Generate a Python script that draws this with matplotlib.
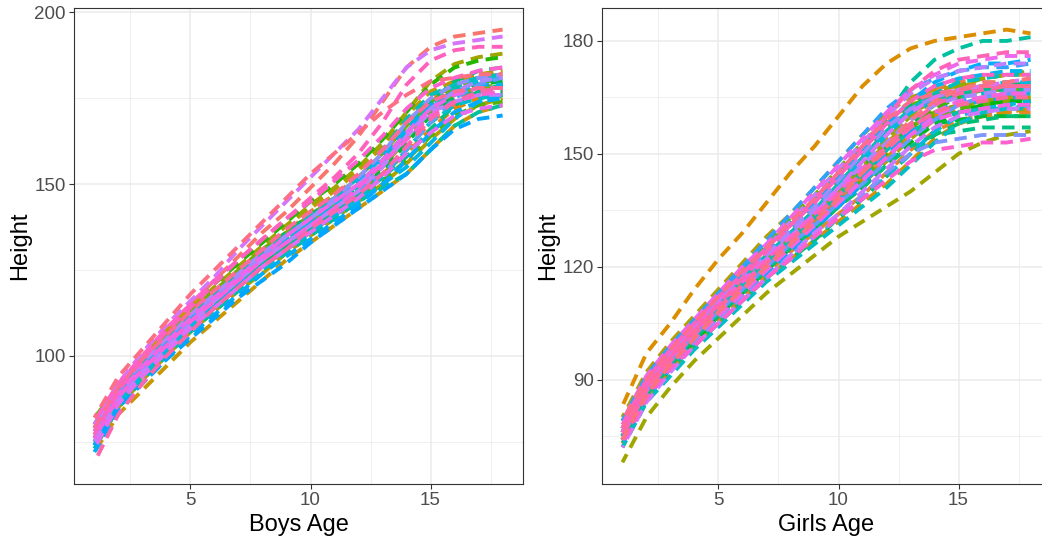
import numpy as np
import matplotlib
matplotlib.use("Agg")
import matplotlib.pyplot as plt
from matplotlib.ticker import MultipleLocator

plt.rcParams['font.family'] = ['Liberation Sans', 'DejaVu Sans']

# ages at which each growth curve is sampled
ages = [1, 2, 3, 4, 5, 6, 7, 8, 9, 10, 11, 12, 13, 14, 15, 16, 17, 18]

# boys' heights (cm), one row per child
boys = [
    [79, 91, 100, 108, 115, 122, 129, 136, 142, 149, 156, 164, 174, 184, 190, 193, 194, 195],
    [74, 86, 94, 101, 108, 114, 120, 126, 131, 137, 142, 147, 153, 160, 168, 173, 176, 177],
    [78, 90, 98, 106, 113, 119, 125, 131, 136, 142, 147, 152, 159, 168, 175, 179, 181, 182],
    [75, 87, 95, 102, 109, 115, 121, 127, 132, 138, 143, 148, 153, 159, 166, 172, 175, 176],
    [77, 89, 97, 104, 111, 117, 123, 129, 135, 140, 145, 151, 158, 166, 173, 176, 178, 179],
    [72, 83, 90, 97, 104, 110, 116, 122, 128, 133, 138, 143, 148, 153, 160, 167, 171, 173],
    [80, 92, 99, 107, 114, 120, 126, 132, 138, 143, 148, 154, 161, 170, 177, 180, 182, 183],
    [73, 85, 93, 100, 107, 113, 119, 124, 130, 135, 140, 145, 150, 156, 163, 169, 173, 175],
    [78, 90, 98, 106, 113, 120, 126, 132, 138, 144, 149, 155, 162, 171, 180, 185, 187, 188],
    [76, 88, 96, 103, 110, 117, 123, 128, 134, 139, 144, 149, 155, 163, 171, 176, 178, 179],
    [82, 91, 99, 106, 113, 119, 125, 131, 136, 141, 146, 152, 159, 167, 174, 178, 180, 180],
    [74, 86, 94, 101, 108, 114, 120, 126, 131, 136, 141, 146, 151, 157, 164, 170, 173, 174],
    [79, 90, 99, 107, 114, 121, 127, 133, 139, 145, 150, 156, 163, 171, 179, 184, 186, 187],
    [77, 88, 96, 103, 110, 116, 122, 128, 133, 138, 143, 148, 154, 162, 170, 176, 179, 180],
    [75, 87, 95, 102, 109, 115, 121, 127, 132, 138, 143, 149, 156, 165, 172, 175, 177, 177],
    [78, 89, 97, 104, 111, 118, 124, 130, 136, 141, 146, 152, 158, 166, 174, 180, 183, 184],
    [76, 87, 95, 102, 109, 115, 121, 127, 132, 137, 142, 147, 152, 158, 166, 173, 177, 179],
    [73, 85, 93, 100, 107, 113, 119, 125, 130, 135, 140, 145, 149, 153, 160, 167, 171, 173],
    [77, 89, 97, 104, 111, 117, 123, 129, 134, 139, 144, 149, 156, 165, 173, 178, 181, 182],
    [80, 90, 98, 105, 112, 118, 124, 130, 135, 141, 146, 152, 160, 169, 176, 179, 181, 181],
    [74, 86, 94, 101, 108, 114, 120, 125, 131, 136, 141, 146, 152, 160, 168, 173, 175, 176],
    [76, 88, 96, 103, 110, 116, 122, 128, 133, 139, 144, 150, 157, 165, 172, 177, 180, 181],
    [75, 87, 95, 102, 109, 115, 121, 126, 131, 136, 141, 145, 150, 155, 162, 169, 174, 176],
    [78, 89, 97, 104, 111, 117, 123, 129, 134, 140, 145, 151, 158, 166, 173, 177, 179, 179],
    [72, 84, 92, 99, 106, 112, 118, 124, 129, 134, 139, 144, 150, 157, 165, 171, 174, 175],
    [74, 85, 92, 99, 105, 111, 117, 122, 127, 133, 138, 143, 148, 153, 160, 166, 169, 170],
    [77, 88, 96, 103, 110, 116, 122, 128, 133, 138, 143, 148, 153, 160, 168, 175, 179, 181],
    [76, 88, 96, 103, 110, 117, 123, 129, 135, 140, 146, 152, 159, 168, 175, 179, 181, 182],
    [79, 90, 98, 105, 112, 118, 124, 130, 135, 140, 145, 150, 156, 164, 172, 177, 180, 181],
    [75, 87, 95, 102, 109, 116, 122, 128, 133, 138, 143, 148, 155, 164, 171, 174, 176, 176],
    [80, 92, 101, 109, 116, 123, 131, 138, 145, 152, 159, 166, 175, 184, 189, 191, 192, 193],
    [73, 86, 94, 101, 108, 114, 120, 126, 131, 136, 141, 146, 152, 159, 165, 170, 172, 173],
    [78, 89, 97, 104, 111, 117, 123, 129, 135, 140, 145, 150, 157, 165, 172, 176, 178, 178],
    [76, 88, 96, 103, 110, 116, 122, 128, 133, 138, 143, 149, 156, 163, 170, 174, 176, 177],
    [81, 92, 100, 108, 115, 122, 128, 134, 140, 145, 151, 157, 164, 172, 178, 181, 183, 184],
    [77, 90, 99, 107, 114, 121, 128, 134, 140, 146, 152, 159, 168, 179, 186, 189, 190, 190],
    [69, 83, 92, 100, 107, 114, 120, 126, 131, 137, 142, 147, 153, 161, 169, 174, 177, 178],
    [79, 91, 99, 106, 113, 119, 125, 131, 137, 142, 147, 153, 160, 168, 174, 177, 178, 178],
    [82, 94, 102, 110, 118, 125, 132, 139, 146, 153, 159, 165, 171, 176, 180, 181, 182, 182],
]

# girls' heights (cm), one row per child
girls = [
    [76, 88, 96, 103, 110, 117, 123, 129, 135, 142, 149, 156, 161, 164, 166, 167, 167, 168],
    [74, 86, 94, 101, 108, 114, 120, 126, 132, 138, 144, 151, 157, 161, 163, 164, 165, 165],
    [78, 90, 98, 105, 112, 119, 125, 131, 137, 143, 150, 157, 163, 167, 169, 170, 171, 171],
    [73, 85, 93, 100, 106, 112, 118, 124, 129, 134, 139, 145, 151, 156, 159, 160, 161, 161],
    [75, 87, 95, 102, 108, 114, 120, 126, 132, 137, 143, 149, 155, 160, 163, 165, 166, 167],
    [83, 97, 105, 114, 122, 129, 137, 145, 152, 160, 168, 174, 178, 180, 181, 182, 183, 182],
    [72, 84, 92, 99, 105, 111, 117, 122, 127, 132, 137, 142, 148, 154, 158, 160, 161, 162],
    [77, 89, 97, 104, 110, 117, 123, 129, 135, 141, 147, 154, 160, 164, 166, 167, 168, 168],
    [76, 88, 96, 103, 110, 116, 122, 128, 134, 140, 146, 153, 158, 161, 163, 164, 164, 165],
    [80, 92, 100, 107, 114, 121, 128, 134, 141, 148, 155, 161, 165, 167, 168, 169, 169, 170],
    [74, 86, 94, 101, 107, 113, 119, 125, 131, 136, 142, 148, 154, 159, 162, 164, 165, 165],
    [68, 80, 88, 95, 101, 107, 113, 118, 123, 128, 132, 136, 140, 145, 150, 153, 155, 156],
    [75, 87, 95, 102, 109, 115, 122, 128, 134, 140, 147, 154, 160, 165, 168, 170, 171, 172],
    [77, 88, 96, 103, 110, 116, 122, 128, 134, 140, 146, 152, 157, 161, 163, 164, 164, 164],
    [79, 91, 99, 106, 113, 120, 126, 133, 139, 146, 153, 159, 163, 165, 166, 167, 167, 167],
    [73, 85, 93, 100, 107, 113, 119, 125, 131, 137, 143, 150, 156, 160, 162, 163, 163, 163],
    [76, 87, 95, 102, 109, 115, 121, 127, 133, 139, 145, 151, 157, 162, 165, 167, 168, 168],
    [74, 86, 94, 100, 107, 113, 119, 125, 130, 136, 141, 147, 153, 158, 161, 163, 164, 164],
    [78, 89, 97, 104, 111, 117, 123, 129, 135, 141, 147, 152, 156, 158, 159, 160, 160, 160],
    [75, 87, 95, 102, 108, 114, 120, 126, 132, 138, 144, 151, 158, 163, 166, 168, 169, 169],
    [77, 89, 97, 104, 111, 118, 124, 131, 137, 144, 151, 158, 163, 166, 167, 168, 168, 169],
    [73, 85, 93, 99, 105, 111, 117, 122, 127, 133, 138, 144, 150, 155, 158, 159, 160, 160],
    [74, 86, 94, 101, 107, 113, 119, 125, 130, 136, 141, 147, 152, 155, 156, 157, 157, 157],
    [78, 90, 98, 105, 112, 118, 125, 131, 137, 143, 150, 157, 162, 165, 166, 167, 167, 167],
    [77, 89, 97, 105, 112, 119, 125, 132, 138, 145, 152, 160, 169, 175, 178, 180, 180, 181],
    [75, 87, 95, 102, 109, 115, 121, 127, 133, 139, 145, 151, 156, 159, 161, 162, 162, 162],
    [76, 88, 96, 103, 110, 117, 123, 129, 135, 142, 149, 156, 162, 166, 169, 170, 171, 171],
    [72, 84, 91, 98, 104, 110, 116, 121, 126, 131, 136, 141, 147, 153, 158, 161, 162, 163],
    [77, 89, 97, 104, 111, 117, 124, 130, 136, 142, 149, 156, 161, 164, 165, 166, 166, 166],
    [74, 85, 93, 99, 105, 111, 117, 123, 128, 133, 138, 144, 150, 156, 160, 162, 163, 164],
    [76, 88, 96, 103, 110, 116, 123, 129, 135, 141, 148, 155, 161, 165, 167, 168, 169, 169],
    [78, 90, 98, 105, 112, 119, 125, 131, 137, 144, 151, 158, 164, 168, 170, 171, 172, 172],
    [75, 86, 94, 101, 108, 114, 120, 126, 132, 138, 144, 150, 156, 161, 164, 165, 166, 166],
    [77, 89, 97, 104, 111, 118, 124, 131, 137, 144, 151, 158, 164, 169, 172, 174, 174, 175],
    [73, 85, 93, 100, 106, 112, 118, 124, 130, 136, 142, 149, 156, 161, 163, 164, 165, 165],
    [79, 91, 99, 106, 113, 120, 127, 134, 141, 148, 155, 162, 167, 170, 172, 173, 173, 174],
    [75, 87, 95, 102, 108, 114, 120, 126, 131, 137, 142, 148, 154, 159, 163, 165, 166, 167],
    [74, 86, 94, 100, 106, 112, 117, 123, 128, 133, 139, 145, 150, 153, 154, 155, 155, 155],
    [76, 88, 96, 103, 110, 117, 123, 130, 136, 143, 150, 157, 162, 165, 167, 168, 168, 168],
    [78, 89, 97, 104, 111, 117, 123, 129, 135, 141, 147, 153, 159, 163, 165, 166, 167, 167],
    [77, 89, 97, 104, 111, 118, 125, 132, 139, 146, 153, 160, 166, 170, 172, 173, 174, 174],
    [72, 84, 92, 99, 105, 111, 117, 123, 129, 134, 140, 146, 152, 157, 160, 161, 162, 162],
    [75, 87, 95, 102, 109, 115, 122, 128, 134, 141, 148, 155, 161, 165, 167, 168, 169, 170],
    [76, 87, 95, 102, 108, 114, 120, 126, 132, 137, 143, 149, 155, 160, 163, 165, 166, 166],
    [79, 91, 99, 106, 113, 120, 126, 133, 140, 147, 154, 161, 167, 171, 174, 175, 176, 176],
    [74, 86, 94, 101, 107, 113, 119, 125, 131, 137, 143, 149, 155, 159, 161, 162, 163, 163],
    [77, 89, 97, 104, 110, 116, 122, 128, 134, 140, 146, 152, 157, 161, 164, 165, 166, 166],
    [73, 85, 93, 99, 105, 111, 117, 122, 128, 133, 138, 143, 148, 151, 152, 153, 153, 154],
    [78, 90, 98, 105, 112, 118, 125, 131, 137, 144, 151, 158, 164, 168, 170, 171, 171, 171],
    [76, 88, 96, 103, 110, 117, 124, 131, 138, 145, 152, 160, 167, 172, 175, 176, 177, 177],
    [75, 87, 95, 102, 109, 115, 121, 127, 133, 139, 145, 152, 158, 163, 166, 167, 168, 168],
    [77, 88, 96, 103, 109, 115, 121, 127, 133, 139, 145, 151, 157, 161, 163, 164, 165, 165],
    [79, 90, 98, 105, 112, 119, 125, 132, 138, 145, 152, 159, 164, 166, 167, 168, 168, 168],
    [74, 86, 94, 101, 108, 114, 120, 126, 132, 138, 145, 152, 159, 164, 167, 169, 169, 170],
]


def hue_palette(n, c=100.0, l=65.0):
    # evenly spaced HCL hues, starting at 15 degrees
    hues = np.linspace(15, 375, n + 1)[:n]
    xn, yn, zn = 95.047, 100.0, 108.883
    un = 4 * xn / (xn + 15 * yn + 3 * zn)
    vn = 9 * yn / (xn + 15 * yn + 3 * zn)
    m = np.array([[3.2404542, -1.5371385, -0.4985314],
                  [-0.9692660, 1.8760108, 0.0415560],
                  [0.0556434, -0.2040259, 1.0572252]])
    out = []
    for h in hues:
        u = c * np.cos(np.radians(h))
        v = c * np.sin(np.radians(h))
        y = yn * ((l + 16) / 116) ** 3
        up = u / (13 * l) + un
        vp = v / (13 * l) + vn
        x = y * 9 * up / (4 * vp)
        z = y * (12 - 3 * up - 20 * vp) / (4 * vp)
        rgb = m @ (np.array([x, y, z]) / 100)
        rgb = np.where(rgb <= 0.0031308, 12.92 * rgb,
                       1.055 * np.clip(rgb, 0, None) ** (1 / 2.4) - 0.055)
        out.append(np.clip(rgb, 0, 1))
    return out


W, H = 1042, 538
fig = plt.figure(figsize=(W / 100, H / 100), dpi=100)
fig.patch.set_facecolor('white')

panels = [
    (boys, 'Boys Age', [74, 54, 449, 476], 50, 25),
    (girls, 'Girls Age', [602, 54, 449, 476], 30, 15),
]

dash_on, dash_off = 3.2, 1.9

for rows, xlabel, box, ymajor, yminor in panels:
    ax = fig.add_axes([box[0] / W, box[1] / H, box[2] / W, box[3] / H])
    cols = hue_palette(len(rows))
    for i, (hts, col) in enumerate(zip(rows, cols)):
        # stagger the dash phase so neighbouring curves don't line up
        offset = (i * 1.93) % (dash_on + dash_off)
        ax.plot(ages, hts, color=col, lw=2.8, dash_capstyle='butt',
                dash_joinstyle='round',
                linestyle=(offset, (dash_on, dash_off)))

    lo = min(min(r) for r in rows)
    hi = max(max(r) for r in rows)
    pad = 0.05 * (hi - lo)
    ax.set_ylim(lo - pad, hi + pad)
    ax.set_xlim(1 - 0.05 * 17, 18 + 0.05 * 17)

    ax.xaxis.set_major_locator(MultipleLocator(5))
    ax.xaxis.set_minor_locator(MultipleLocator(2.5))
    ax.yaxis.set_major_locator(MultipleLocator(ymajor))
    ax.yaxis.set_minor_locator(MultipleLocator(yminor))
    ax.grid(which='major', color='#EBEBEB', lw=1.1)
    ax.grid(which='minor', color='#EBEBEB', lw=0.55)
    ax.set_axisbelow(True)
    ax.tick_params(which='major', length=3.5, width=0.8, color='#333333',
                   labelsize=13.5, labelcolor='#4D4D4D', pad=2.5)
    ax.tick_params(which='minor', length=0)
    for sp in ax.spines.values():
        sp.set_color('#333333')
        sp.set_linewidth(0.8)

    ax.set_xlabel(xlabel, fontsize=17, color='black', labelpad=3)
    ax.set_ylabel('Height', fontsize=17, color='black', labelpad=2)

fig.savefig('out.png', dpi=100, facecolor='white')
